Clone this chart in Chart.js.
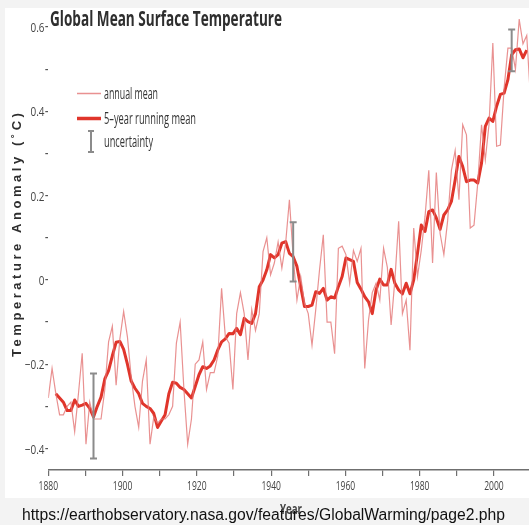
<!DOCTYPE html>
<html>
<head>
<meta charset="utf-8">
<script src="https://cdn.jsdelivr.net/npm/chart.js@4.4.0/dist/chart.umd.min.js"></script>
<style>
  html, body { margin: 0; padding: 0; background: #f3f3f3; overflow: hidden; }
  #wrap { position: absolute; left: 0; top: 0; width: 529px; height: 525px; }
</style>
</head>
<body>
<div id="wrap"><canvas id="chart" width="529" height="525"></canvas></div>
<script>
// Global land-ocean temperature anomaly (°C), one value per year from 1880
const annualStartYear = 1880;
const annualMean = [
  -0.28, -0.21, -0.27, -0.32, -0.32, -0.30, -0.29, -0.36, -0.27, -0.174,
  -0.39, -0.29, -0.33, -0.33, -0.33, -0.26, -0.147, -0.11, -0.25, -0.14,
  -0.075, -0.135, -0.23, -0.30, -0.35, -0.24, -0.19, -0.39, -0.325, -0.34,
  -0.33, -0.33, -0.32, -0.30, -0.15, -0.10, -0.26, -0.39, -0.33, -0.20,
  -0.19, -0.147, -0.26, -0.22, -0.22, -0.18, -0.02, -0.135, -0.15, -0.26,
  -0.08, -0.03, -0.08, -0.19, -0.07, -0.12, -0.08, 0.067, 0.10, 0.012,
  0.04, 0.09, 0.028, 0.087, 0.19, 0.055, -0.048, 0.008, -0.055, -0.08,
  -0.155, -0.07, 0.024, 0.107, -0.10, -0.10, -0.175, 0.075, 0.08, 0.06,
  -0.008, 0.07, 0.044, 0.075, -0.21, -0.095, -0.03, -0.008, -0.048, 0.075,
  0.03, -0.107, 0.0, 0.139, -0.08, -0.048, -0.167, 0.123, 0.008, 0.07,
  0.15, 0.26, 0.04, 0.255, 0.11, 0.06, 0.14, 0.26, 0.307, 0.19,
  0.368, 0.344, 0.123, 0.13, 0.23, 0.368, 0.285, 0.37, 0.562, 0.317,
  0.32, 0.455, 0.55, 0.55, 0.50, 0.618, 0.56, 0.58, 0.43
];

// Centred 5-year running mean, first value is 1882
const runningStartYear = 1882;
const runningMean = [
  -0.27, -0.28, -0.29, -0.31, -0.31, -0.285, -0.30, -0.297,
  -0.293, -0.305, -0.325, -0.30, -0.278, -0.235, -0.215, -0.18, -0.148, -0.146,
  -0.165, -0.20, -0.24, -0.257, -0.27, -0.293, -0.30, -0.305, -0.317, -0.35,
  -0.335, -0.32, -0.27, -0.243, -0.245, -0.255, -0.26, -0.27, -0.28, -0.253,
  -0.225, -0.206, -0.21, -0.204, -0.19, -0.166, -0.147, -0.14, -0.127, -0.128,
  -0.115, -0.13, -0.091, -0.099, -0.103, -0.08, -0.016, 0.0, 0.024, 0.06,
  0.052, 0.06, 0.087, 0.091, 0.063, 0.055, 0.032, -0.016, -0.063, -0.063,
  -0.06, -0.028, -0.032, -0.02, -0.048, -0.04, -0.043, -0.016, 0.008, 0.052,
  0.048, 0.044, -0.006, -0.022, -0.04, -0.052, -0.08, -0.024, 0.002, -0.012,
  -0.012, 0.025, -0.008, -0.024, -0.033, -0.008, -0.033, 0.0, 0.063, 0.13,
  0.115, 0.162, 0.166, 0.147, 0.12, 0.154, 0.166, 0.186, 0.237, 0.293,
  0.269, 0.233, 0.237, 0.237, 0.23, 0.277, 0.364, 0.384, 0.376, 0.412,
  0.44, 0.443, 0.475, 0.534, 0.546, 0.548, 0.527, 0.545
];

// Uncertainty ranges shown at three epochs
const uncertaintyYears = [1892, 1945, 2003];
const uncertaintyLow  = [-0.424, -0.004, 0.495];
const uncertaintyHigh = [-0.222, 0.137, 0.594];

// Axis labelling
const yearLabels = [1880, 1900, 1920, 1940, 1960, 1980, 2000];
const tempLabels = [-0.4, -0.2, 0, 0.2, 0.4, 0.6];

const titleText = 'Global Mean Surface Temperature';
const legendLabels = ['annual mean', '5\u2013year running mean', 'uncertainty'];
const yTitle = 'Temperature Anomaly (\u02DAC)';
const xTitle = 'Year';
const sourceText = 'https://earthobservatory.nasa.gov/features/GlobalWarming/page2.php';

const annualColor = 'rgba(228,118,118,0.80)';
const runningColor = '#e0352b';
const barColor = '#8b8b8b';
const textColor = '#333333';
const CONDENSED = "'Open Sans', 'Noto Sans', sans-serif";

const annualPoints = annualMean.map((v, i) => ({ x: annualStartYear + i, y: v }));
const runningPoints = runningMean.map((v, i) => ({ x: runningStartYear + i, y: v }));

// Draws a string squeezed horizontally (by factor sx, or to a given width)
function drawText(ctx, text, x, y, o) {
  ctx.save();
  ctx.font = o.font;
  ctx.fillStyle = o.color || textColor;
  ctx.textBaseline = o.baseline || 'alphabetic';
  ctx.textAlign = 'left';
  const w = ctx.measureText(text).width;
  const sx = o.width ? o.width / w : (o.sx || 1);
  let x0 = x;
  if (o.align === 'right') x0 = x - w * sx;
  else if (o.align === 'center') x0 = x - w * sx / 2;
  ctx.translate(x0, y);
  ctx.scale(sx, 1);
  ctx.fillText(text, 0, 0);
  ctx.restore();
}

function squeezeFor(ctx, font, sample, width) {
  ctx.save();
  ctx.font = font;
  const w = ctx.measureText(sample).width;
  ctx.restore();
  return width / w;
}

function fmtTemp(v) {
  if (v === 0) return '0';
  return (v < 0 ? '\u2212' : '') + Math.abs(v).toFixed(1);
}

const decorations = {
  id: 'decorations',
  beforeDraw(chart) {
    const ctx = chart.ctx;
    ctx.save();
    ctx.fillStyle = '#f3f3f3';
    ctx.fillRect(0, 0, chart.width, chart.height);
    ctx.fillStyle = '#ffffff';
    ctx.fillRect(5, 8, chart.width - 5, 490);
    ctx.restore();
  },
  afterDatasetsDraw(chart) {
    const ctx = chart.ctx;
    const xs = chart.scales.x, ys = chart.scales.y;
    ctx.save();
    ctx.strokeStyle = barColor;
    ctx.lineWidth = 2;
    uncertaintyYears.forEach((yr, i) => {
      const px = xs.getPixelForValue(yr);
      const y1 = ys.getPixelForValue(uncertaintyLow[i]);
      const y2 = ys.getPixelForValue(uncertaintyHigh[i]);
      ctx.beginPath();
      ctx.moveTo(px, y1); ctx.lineTo(px, y2);
      ctx.moveTo(px - 3.5, y1); ctx.lineTo(px + 3.5, y1);
      ctx.moveTo(px - 3.5, y2); ctx.lineTo(px + 3.5, y2);
      ctx.stroke();
    });
    ctx.restore();
  },
  afterDraw(chart) {
    const ctx = chart.ctx;
    const ys = chart.scales.y, yr = chart.scales.years;

    // tick labels
    const tickFont = "13.5px " + CONDENSED;
    const sxX = squeezeFor(ctx, tickFont, '1880', 19.5);
    yearLabels.forEach(v => {
      drawText(ctx, String(v), yr.getPixelForValue(v), 490, { font: tickFont, sx: sxX, align: 'center', color: '#444' });
    });
    const sxY = squeezeFor(ctx, tickFont, '0.6', 14);
    tempLabels.forEach(v => {
      drawText(ctx, fmtTemp(v), 44.5, ys.getPixelForValue(v) + 5, { font: tickFont, sx: sxY, align: 'right', color: '#444' });
    });

    // title
    drawText(ctx, titleText, 50, 26, { font: "bold 21px " + CONDENSED, width: 232, color: '#2e2e2e' });

    // legend
    ctx.save();
    ctx.lineCap = 'butt';
    ctx.strokeStyle = annualColor; ctx.lineWidth = 1.5;
    ctx.beginPath(); ctx.moveTo(77, 93.5); ctx.lineTo(101, 93.5); ctx.stroke();
    ctx.strokeStyle = runningColor; ctx.lineWidth = 3.5;
    ctx.beginPath(); ctx.moveTo(77, 118.5); ctx.lineTo(101, 118.5); ctx.stroke();
    ctx.strokeStyle = barColor; ctx.lineWidth = 2;
    ctx.beginPath();
    ctx.moveTo(91, 131); ctx.lineTo(91, 152);
    ctx.moveTo(88, 131); ctx.lineTo(94, 131);
    ctx.moveTo(88, 152); ctx.lineTo(94, 152);
    ctx.stroke();
    ctx.restore();
    const legFont = "16px " + CONDENSED;
    drawText(ctx, legendLabels[0], 104, 98.5, { font: legFont, width: 54 });
    drawText(ctx, legendLabels[1], 104, 123.5, { font: legFont, width: 92 });
    drawText(ctx, legendLabels[2], 104, 146.5, { font: legFont, width: 49 });

    // axis titles
    ctx.save();
    ctx.translate(21, 235);
    ctx.rotate(-Math.PI / 2);
    ctx.font = "bold 13px 'Liberation Sans', Arial, sans-serif";
    ctx.fillStyle = '#2e2e2e';
    ctx.textBaseline = 'alphabetic';
    const target = 244;
    const chars = Array.from(yTitle);
    const plain = ctx.measureText(yTitle).width;
    const gap = (target - plain) / (chars.length - 1);
    if ('letterSpacing' in ctx) {
      ctx.letterSpacing = gap.toFixed(2) + 'px';
      ctx.textAlign = 'left';
      ctx.fillText(yTitle, -target / 2, 0);
    } else {
      let cx = -target / 2;
      chars.forEach(ch => { ctx.fillText(ch, cx, 0); cx += ctx.measureText(ch).width + gap; });
    }
    ctx.restore();

    drawText(ctx, xTitle, 291, 514, { font: "bold 14px " + CONDENSED, width: 22, align: 'center', color: '#444' });
    drawText(ctx, sourceText, 22, 520, { font: "16px 'Liberation Sans', Arial, sans-serif", width: 483, color: '#111' });
  }
};

new Chart(document.getElementById('chart'), {
  type: 'line',
  data: {
    datasets: [
      { label: legendLabels[0], data: annualPoints, borderColor: annualColor, borderWidth: 1.2,
        pointRadius: 0, tension: 0, xAxisID: 'x', yAxisID: 'y' },
      { label: legendLabels[1], data: runningPoints, borderColor: runningColor, borderWidth: 3,
        pointRadius: 0, tension: 0, borderJoinStyle: 'round', xAxisID: 'x', yAxisID: 'y' }
    ]
  },
  options: {
    responsive: false,
    animation: false,
    devicePixelRatio: 1,
    layout: { padding: { top: 19, left: 0, right: 0, bottom: 0 } },
    plugins: { legend: { display: false }, title: { display: false }, tooltip: { enabled: false } },
    scales: {
      x: { type: 'linear', min: 1880, max: 2007.6, display: false },
      years: {
        type: 'linear', position: 'bottom', min: 1880, max: 2009.43,
        ticks: { display: false, stepSize: 10, includeBounds: false },
        grid: { drawOnChartArea: false, drawTicks: true, tickLength: 6, color: '#6f6f6f', lineWidth: 1.2 },
        border: { display: true, color: '#6f6f6f', width: 1.5 },
        afterFit(s) { s.height = 55; }
      },
      y: {
        type: 'linear', position: 'left', min: -0.451, max: 0.619,
        ticks: { display: false, stepSize: 0.1, includeBounds: false },
        grid: { drawOnChartArea: false, drawTicks: true, tickLength: 3, color: '#555', lineWidth: 1.2 },
        border: { display: false },
        afterFit(s) { s.width = 48.3; }
      }
    }
  },
  plugins: [decorations]
});
</script>
</body>
</html>
